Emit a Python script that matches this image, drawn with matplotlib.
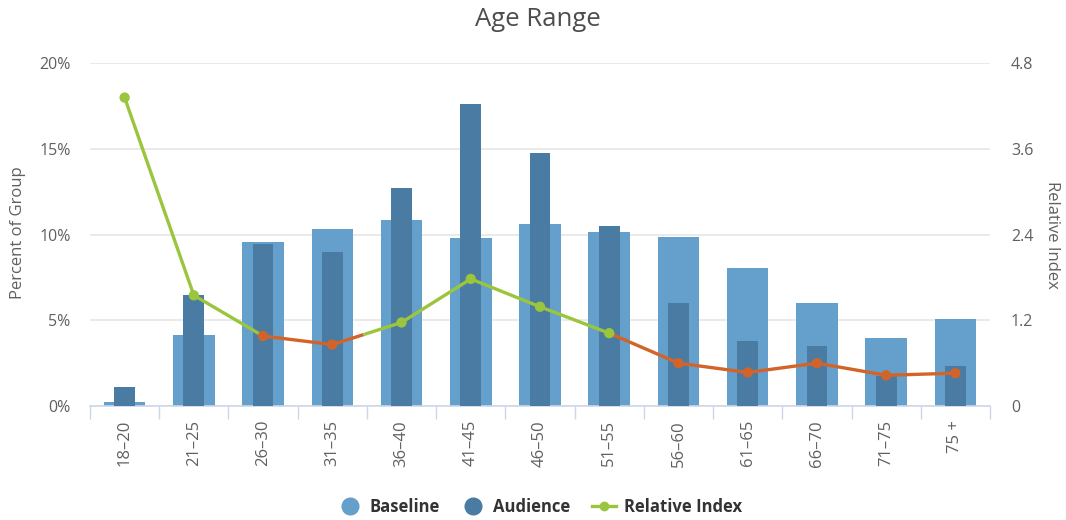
import matplotlib
matplotlib.use("Agg")
import matplotlib.pyplot as plt
from matplotlib.lines import Line2D
import numpy as np

plt.rcParams['font.family'] = ['Open Sans', 'DejaVu Sans']

# Age-range categories and shares (percent of each group)
categories = ["18–20", "21–25", "26–30", "31–35", "36–40", "41–45", "46–50",
              "51–55", "56–60", "61–65", "66–70", "71–75", "75 +"]
baseline = [0.25, 4.12, 9.58, 10.34, 10.83, 9.78, 10.61, 10.13, 9.85, 8.03, 5.99, 3.95, 5.07]
audience = [1.08, 6.45, 9.45, 8.96, 12.71, 17.61, 14.79, 10.50, 6.00, 3.77, 3.52, 1.73, 2.31]
relative_index = [4.32, 1.55, 0.98, 0.86, 1.17, 1.78, 1.39, 1.02, 0.60, 0.47, 0.60, 0.43, 0.46]

left_ticks = [0, 5, 10, 15, 20]
left_labels = ["0%", "5%", "10%", "15%", "20%"]
right_ticks = [0, 1.2, 2.4, 3.6, 4.8]
right_labels = ["0", "1.2", "2.4", "3.6", "4.8"]

C_BASE = "#659fcb"
C_AUD = "#4a7ba3"
C_UP = "#9bc53d"
C_DOWN = "#d2642a"
C_TEXT = "#606060"
threshold = 1.0

fig = plt.figure(figsize=(10.66, 5.20), dpi=100)
ax = fig.add_axes([90 / 1066, 1 - 406 / 520, 900 / 1066, (406 - 63.3) / 520])

x = np.arange(len(categories))
ax.bar(x, baseline, width=0.6, color=C_BASE, zorder=2)
ax.bar(x, audience, width=0.3, color=C_AUD, zorder=3)

ax.set_xlim(-0.5, len(categories) - 0.5)
ax.set_ylim(0, 20)
ax.set_yticks(left_ticks)
ax.set_yticklabels(left_labels)
ax.set_axisbelow(True)
ax.grid(axis="y", color="#e6e6e6", linewidth=1.2, zorder=0)
for s in ["top", "left", "right"]:
    ax.spines[s].set_visible(False)
ax.spines["bottom"].set_color("#ccd6eb")
ax.spines["bottom"].set_linewidth(1.2)

ax.set_xticks(x)
ax.set_xticklabels(categories, rotation=90, fontsize=12, color=C_TEXT)
ax.set_xticks(np.arange(len(categories) + 1) - 0.5, minor=True)
ax.tick_params(axis="x", which="major", length=0, pad=10)
ax.tick_params(axis="x", which="minor", length=9, color="#ccd6eb", width=1)
ax.tick_params(axis="y", length=0, pad=14, labelsize=11.5, labelcolor=C_TEXT)

# Relative index on the secondary axis, coloured by threshold zone
ax2 = ax.twinx()
ax2.set_ylim(0, 4.8)
ax2.set_yticks(right_ticks)
ax2.set_yticklabels(right_labels)
ax2.tick_params(axis="y", length=0, pad=15, labelsize=11.5, labelcolor=C_TEXT)
for s in ax2.spines.values():
    s.set_visible(False)

ri = np.array(relative_index, dtype=float)
for i in range(len(ri) - 1):
    x0, x1, y0, y1 = x[i], x[i + 1], ri[i], ri[i + 1]
    if (y0 >= threshold) == (y1 >= threshold):
        col = C_UP if y0 >= threshold else C_DOWN
        ax2.plot([x0, x1], [y0, y1], color=col, lw=2.4, solid_capstyle="round", zorder=4)
    else:
        t = (threshold - y0) / (y1 - y0)
        xc = x0 + t * (x1 - x0)
        ax2.plot([x0, xc], [y0, threshold], color=C_UP if y0 >= threshold else C_DOWN,
                 lw=2.4, solid_capstyle="butt", zorder=4)
        ax2.plot([xc, x1], [threshold, y1], color=C_UP if y1 >= threshold else C_DOWN,
                 lw=2.4, solid_capstyle="butt", zorder=4)
marker_cols = [C_UP if v >= threshold else C_DOWN for v in ri]
ax2.scatter(x, ri, s=55, c=marker_cols, zorder=5, edgecolors="none")

fig.text(538 / 1066, 1 - 20 / 520, "Age Range", ha="center", va="center",
         fontsize=18.5, color="#4d4d4d")
fig.text(18 / 1066, 1 - 233 / 520, "Percent of Group", rotation=90,
         ha="center", va="center", fontsize=12, color=C_TEXT)
fig.text(1052 / 1066, 1 - 235 / 520, "Relative Index", rotation=270,
         ha="center", va="center", fontsize=12, color=C_TEXT)

handles = [
    Line2D([], [], linestyle="none", marker="o", markersize=12, color=C_BASE),
    Line2D([], [], linestyle="none", marker="o", markersize=12, color=C_AUD),
    Line2D([], [], color=C_UP, lw=2.4, marker="o", markersize=6),
]
leg = fig.legend(handles, ["Baseline", "Audience", "Relative Index"],
                 loc="center", bbox_to_anchor=(540 / 1066, 1 - 507 / 520),
                 ncol=3, frameon=False, handlelength=1.4, handletextpad=0.5,
                 columnspacing=1.3, prop={"weight": "bold", "size": 12})
for t in leg.get_texts():
    t.set_color("#333333")

fig.savefig("out.png", dpi=100)
